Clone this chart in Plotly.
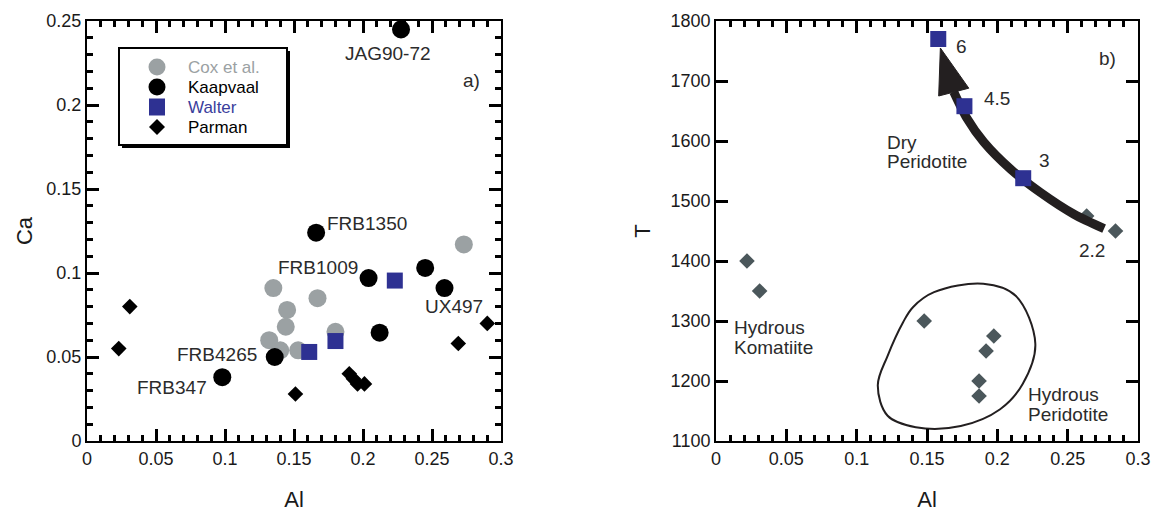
import plotly.graph_objects as go

# ---------------- data: panel a) ----------------
cox_al = [0.135, 0.145, 0.144, 0.132, 0.140, 0.153, 0.167, 0.180, 0.273]
cox_ca = [0.091, 0.078, 0.068, 0.060, 0.054, 0.054, 0.085, 0.065, 0.117]

kaap_al = [0.2275, 0.166, 0.204, 0.245, 0.259, 0.212, 0.136, 0.098]
kaap_ca = [0.245, 0.124, 0.097, 0.103, 0.091, 0.0645, 0.050, 0.038]

walter_al = [0.161, 0.180, 0.223]
walter_ca = [0.053, 0.0595, 0.0955]

parman_al = [0.031, 0.023, 0.151, 0.190, 0.193, 0.196, 0.201, 0.269, 0.290]
parman_ca = [0.080, 0.055, 0.028, 0.040, 0.037, 0.034, 0.034, 0.058, 0.070]

series_names = ["Cox et al.", "Kaapvaal", "Walter", "Parman"]

# ---------------- data: panel b) ----------------
dry_al = [0.158, 0.1766, 0.2184]
dry_t = [1770, 1658, 1538]
dry_lab = ["6", "4.5", "3"]

hyd_al = [0.2635, 0.284, 0.022, 0.031, 0.148, 0.1975, 0.192, 0.187, 0.187]
hyd_t = [1475, 1450, 1400, 1350, 1300, 1275, 1250, 1200, 1175]

# hand-drawn outline around the hydrous peridotite runs
loop_al = [0.190, 0.213, 0.227, 0.218, 0.202, 0.174, 0.142, 0.122, 0.115, 0.122, 0.133, 0.140, 0.155, 0.190]
loop_t = [1362, 1342, 1262, 1195, 1153, 1125, 1123, 1142, 1193, 1242, 1298, 1323, 1348, 1362]

# trend arrow (shaft + head)
arrow_al = [0.2759, 0.2545, 0.2308, 0.2094, 0.1904, 0.1786, 0.169]
arrow_t = [1454, 1478, 1514, 1553, 1598, 1637, 1682]
head_al = [0.1595, 0.1583, 0.1797, 0.1595]
head_t = [1755, 1675, 1688, 1755]

FONT = "Arial, Liberation Sans, sans-serif"
TXT = "#2b2b2b"
GRAY = "#9ba1a3"
BLUE = "#2e3192"
SLATE = "#4b575b"
BLACK = "#231f20"
TICK = "black"

W, H = 1156, 516
ML, MR, MT, MB = 87, 18, 21, 75
PW, PH = W - ML - MR, H - MT - MB

fig = go.Figure()

# panel a traces
fig.add_trace(go.Scatter(x=cox_al, y=cox_ca, mode="markers", name=series_names[0],
                         marker=dict(symbol="circle", size=18, color=GRAY), xaxis="x", yaxis="y"))
fig.add_trace(go.Scatter(x=kaap_al, y=kaap_ca, mode="markers", name=series_names[1],
                         marker=dict(symbol="circle", size=18, color="black"), xaxis="x", yaxis="y"))
fig.add_trace(go.Scatter(x=walter_al, y=walter_ca, mode="markers", name=series_names[2],
                         marker=dict(symbol="square", size=16, color=BLUE), xaxis="x", yaxis="y"))
fig.add_trace(go.Scatter(x=parman_al, y=parman_ca, mode="markers", name=series_names[3],
                         marker=dict(symbol="diamond", size=12, color="black"), xaxis="x", yaxis="y"))

# panel b traces
fig.add_trace(go.Scatter(x=loop_al, y=loop_t, mode="lines",
                         line=dict(color=BLACK, width=2, shape="spline", smoothing=1.0),
                         xaxis="x2", yaxis="y2", hoverinfo="skip"))
fig.add_trace(go.Scatter(x=hyd_al, y=hyd_t, mode="markers", name="Parman",
                         marker=dict(symbol="diamond", size=12, color=SLATE), xaxis="x2", yaxis="y2"))
fig.add_trace(go.Scatter(x=arrow_al, y=arrow_t, mode="lines",
                         line=dict(color=BLACK, width=9, shape="spline", smoothing=0.8),
                         xaxis="x2", yaxis="y2", hoverinfo="skip"))
fig.add_trace(go.Scatter(x=head_al, y=head_t, mode="lines", fill="toself",
                         fillcolor=BLACK, line=dict(color=BLACK, width=1),
                         xaxis="x2", yaxis="y2", hoverinfo="skip"))
fig.add_trace(go.Scatter(x=dry_al, y=dry_t, mode="markers", name="Walter",
                         marker=dict(symbol="square", size=16, color=BLUE), xaxis="x2", yaxis="y2"))

title_font = dict(family=FONT, size=22, color="#1a1a1a")
tick_font = dict(family=FONT, size=18, color="#1a1a1a")

def xax(domain, anchor):
    return dict(domain=domain, anchor=anchor, range=[0, 0.3], automargin=False,
                showline=True, linewidth=2, linecolor="black", mirror="ticks",
                ticks="inside", ticklen=12, tickwidth=3, tickcolor=TICK,
                tick0=0, dtick=0.05,
                minor=dict(ticks="inside", ticklen=6, tickwidth=2.5, tickcolor=TICK, dtick=0.01),
                showgrid=False, zeroline=False, tickfont=tick_font,
                title=dict(text="Al", font=title_font, standoff=24))

fig.update_layout(
    width=W, height=H,
    margin=dict(l=ML, r=MR, t=MT, b=MB),
    paper_bgcolor="white", plot_bgcolor="white",
    font=dict(family=FONT, color=TXT),
    showlegend=False,
    xaxis=xax([0, 0.394], "y"),
    xaxis2=xax([0.5985, 1], "y2"),
    yaxis=dict(anchor="x", range=[0, 0.25], automargin=False,
               showline=True, linewidth=2, linecolor="black", mirror="ticks",
               ticks="inside", ticklen=12, tickwidth=3, tickcolor=TICK,
               tick0=0, dtick=0.05,
               minor=dict(ticks="inside", ticklen=6, tickwidth=2.5, tickcolor=TICK, dtick=0.01),
               showgrid=False, zeroline=False, tickfont=tick_font,
               title=dict(text="Ca", font=title_font, standoff=8)),
    yaxis2=dict(anchor="x2", range=[1100, 1800], automargin=False,
                showline=True, linewidth=2, linecolor="black", mirror="ticks",
                ticks="inside", ticklen=12, tickwidth=3, tickcolor=TICK,
                tick0=1100, dtick=100,
                showgrid=False, zeroline=False, tickfont=tick_font,
                title=dict(text="T", font=title_font, standoff=14)),
)

# legend drawn as a framed key with drop shadow (pixel layout -> paper coords)
def px2paper(px, py):
    return (px - ML) / PW, (H - MB - py) / PH

def rect(px0, py0, px1, py1, **kw):
    x0, y0 = px2paper(px0, py1)
    x1, y1 = px2paper(px1, py0)
    fig.add_shape(type="rect", xref="paper", yref="paper", x0=x0, y0=y0, x1=x1, y1=y1, **kw)

rect(122, 51, 290, 148, fillcolor="black", line=dict(width=0), layer="below")
rect(119, 48, 287, 145, fillcolor="white", line=dict(color="black", width=2), layer="below")

key_x, key_text_x = 157, 186
key_rows = [67, 87, 107, 127]
key_colors = [GRAY, "black", BLUE, "black"]
key_text_colors = [GRAY, "black", "#3a3e9c", "black"]
key_symbols = ["circle", "circle", "square", "diamond"]
for name, row, col, tcol, sym in zip(series_names, key_rows, key_colors, key_text_colors, key_symbols):
    if sym == "circle":
        r = 8.5
        x0, y0 = px2paper(key_x - r, row + r)
        x1, y1 = px2paper(key_x + r, row - r)
        fig.add_shape(type="circle", xref="paper", yref="paper", x0=x0, y0=y0, x1=x1, y1=y1,
                      fillcolor=col, line=dict(width=0), layer="below")
    elif sym == "square":
        rect(key_x - 8, row - 8.5, key_x + 8, row + 8.5, fillcolor=col, line=dict(width=0), layer="below")
    else:
        r = 8
        pts = [px2paper(key_x, row - r), px2paper(key_x + r, row), px2paper(key_x, row + r), px2paper(key_x - r, row)]
        path = "M " + " L ".join(f"{a:.5f},{b:.5f}" for a, b in pts) + " Z"
        fig.add_shape(type="path", xref="paper", yref="paper", path=path,
                      fillcolor=col, line=dict(width=0), layer="below")
    tx, ty = px2paper(key_text_x, row)
    fig.add_annotation(text=name, x=tx, y=ty, xref="paper", yref="paper", showarrow=False,
                       xanchor="left", yanchor="middle", font=dict(family=FONT, size=17, color=tcol))

ann_font = dict(family=FONT, size=19, color=TXT)
labels_a = [
    ("JAG90-72", 0.2181, 0.2305), ("a)", 0.2788, 0.2147), ("FRB1350", 0.2027, 0.1293),
    ("FRB1009", 0.1676, 0.1032), ("UX497", 0.266, 0.0798), ("FRB4265", 0.094, 0.0516),
    ("FRB347", 0.0614, 0.0317),
]
for t, x, y in labels_a:
    fig.add_annotation(text=t, x=x, y=y, xref="x", yref="y", showarrow=False, font=ann_font)

labels_b = [
    (dry_lab[0], 0.1745, 1757, "center"), (dry_lab[1], 0.1999, 1671, "center"),
    (dry_lab[2], 0.2336, 1567, "center"),
    ("2.2", 0.2676, 1417, "center"), ("b)", 0.2783, 1738, "center"),
    ("Dry", 0.1204, 1598, "left"), ("Peridotite", 0.1204, 1566, "left"),
    ("Hydrous", 0.0112, 1289, "left"), ("Komatiite", 0.0112, 1256, "left"),
    ("Hydrous", 0.2201, 1178, "left"), ("Peridotite", 0.2201, 1145, "left"),
]
for t, x, y, xa in labels_b:
    fig.add_annotation(text=t, x=x, y=y, xref="x2", yref="y2", showarrow=False,
                       xanchor=xa, font=ann_font)

fig.write_html("out.html")
